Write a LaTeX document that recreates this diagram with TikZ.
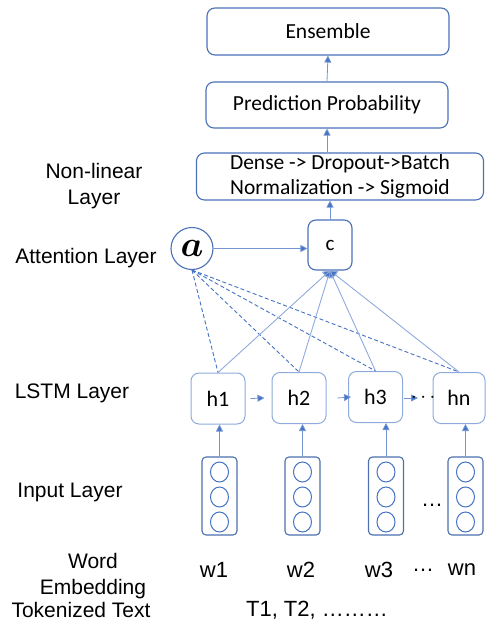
\documentclass[tikz,border=0pt]{standalone}
\usepackage{amsmath}
\usepackage{fontspec}
\setmainfont{Liberation Sans}
\newfontfamily\boxfont{Carlito}
\usetikzlibrary{arrows.meta,shapes.geometric}

\definecolor{boxblue}{HTML}{4A70B8}
\definecolor{lightblue}{HTML}{8FAADC}
\definecolor{arrowblue}{HTML}{4472C4}
\definecolor{inblue}{HTML}{4C6FAE}

\tikzset{
  layerbox/.style={draw=boxblue, line width=1.1pt, rounded corners=8pt,
    inner sep=0pt, font=\boxfont\fontsize{21.5}{25}\selectfont, align=center},
  cellbox/.style={draw=lightblue, line width=1pt, rounded corners=8pt,
    inner sep=0pt, minimum width=54pt, minimum height=51pt,
    font=\boxfont\fontsize{22}{25}\selectfont},
  embcol/.style={draw=inblue, line width=1.1pt, rounded corners=4pt,
    minimum width=35pt, minimum height=78pt, inner sep=0pt},
  embunit/.style={draw=arrowblue, line width=1pt, ellipse, minimum width=18pt,
    minimum height=20pt, inner sep=0pt},
  flow/.style={draw=arrowblue!75, line width=0.8pt,
    -{Triangle[length=7pt,width=7pt,fill=arrowblue]}},
  attn/.style={draw=lightblue, line width=0.9pt},
  attnd/.style={draw=arrowblue, line width=0.9pt, dash pattern=on 4pt off 2.5pt},
  lbl/.style={font=\fontsize{21}{26}\selectfont, align=center, inner sep=0pt},
  word/.style={font=\fontsize{22}{25}\selectfont, inner sep=0pt},
}

\begin{document}
\begin{tikzpicture}[x=1pt, y=-1pt]
\useasboundingbox (0,0) rectangle (485,621);

% upper stack
\node[layerbox, minimum width=242pt, minimum height=47pt] (ens) at (328,31.5) {Ensemble};
\node[layerbox, minimum width=242pt, minimum height=46pt] (pred) at (327,105) {Prediction Probability};
\node[layerbox, minimum width=287pt, minimum height=47pt] (dense) at (340,176.5)
  {Dense -> Dropout->Batch\\Normalization -> Sigmoid};

% attention
\node[draw=boxblue, line width=1.1pt, rounded corners=8pt, minimum width=44pt,
  minimum height=50pt, inner sep=0pt, font=\boxfont\fontsize{21}{24}\selectfont] (c) at (330,245) {c};
\node[draw=boxblue, line width=1.1pt, circle, minimum size=42pt, inner sep=0pt]
  (a) at (192,248.5) {\scalebox{1.45}{\Huge$\boldsymbol{a}$}};

% LSTM cells
\node[cellbox] (h1) at (218,398.5) {h1};
\node[cellbox] (h2) at (299,398) {h2};
\node[cellbox] (h3) at (375.5,397) {h3};
\node[cellbox, minimum width=52pt] (hn) at (459,398) {hn};

% embedding columns
\foreach \n/\x in {1/219.5, 2/302.5, 3/386, 4/465.5} {
  \node[embcol] (col\n) at (\x,496) {};
  \node[embunit] (u\n a) at (\x,472) {};
  \node[embunit] (u\n b) at (\x,497) {};
  \node[embunit] (u\n c) at (\x,522) {};
}

% left labels
\node[lbl] (lnl) at (94,186) {Non-linear\\Layer};
\node[lbl] (lat) at (86,258) {Attention Layer};
\node[lbl] (lls) at (72,393) {LSTM Layer};
\node[lbl] (lin) at (70,492) {Input Layer};
\node[lbl] (lwe) at (93,576) {Word\\Embedding};
\node[lbl] (ltk) at (81,610) {Tokenized Text};

% words
\node[word] (w1) at (214,570) {w1};
\node[word] (w2) at (301,570) {w2};
\node[word] (w3) at (379,570) {w3};
\node[word] (wd) at (423,570) {…};
\node[word] (wn) at (462,570) {wn};
\node[word] (tok) at (317,610) {T1, T2, ………};
\node[word, anchor=base] (cd) at (432,506) {…};

% upward flow
\draw[flow] (pred.north) -- (ens.south);
\draw[flow] (dense.north -| pred.north) -- (pred.south);
\draw[flow] (c.north) -- (c.north |- dense.south);
\draw[flow] (a.east) -- (c.west |- a.east);

% recurrent links
\draw[flow] ([xshift=5pt]h1.east) -- ([xshift=-7pt]h2.west);
\draw[flow] ([xshift=11pt]h2.east) -- ([xshift=3pt]h3.west);
\coordinate (hdots) at (418,398);
\draw[flow] ([xshift=1pt]h3.east |- hdots) -- (hdots);
\node[font=\boxfont\fontsize{20}{24}\selectfont, inner sep=0pt] (hd) at (425,398) {$\cdots$};

% input to cells
\foreach \n/\h in {1/h1, 2/h2, 3/h3, 4/hn} {
  \draw[flow] (col\n.north) -- (col\n.north |- \h.south);
}

% attention weights (dashed) and context inputs (solid)
\foreach \h in {h1, h2, h3, hn} {
  \draw[attnd] (a.south) -- (\h.north);
}
\foreach \h in {h1, h2, h3, hn} {
  \draw[attn, -{Triangle[length=7pt,width=9pt,fill=arrowblue]}, draw=lightblue] (\h.north) -- (c.south);
}
\end{tikzpicture}
\end{document}
